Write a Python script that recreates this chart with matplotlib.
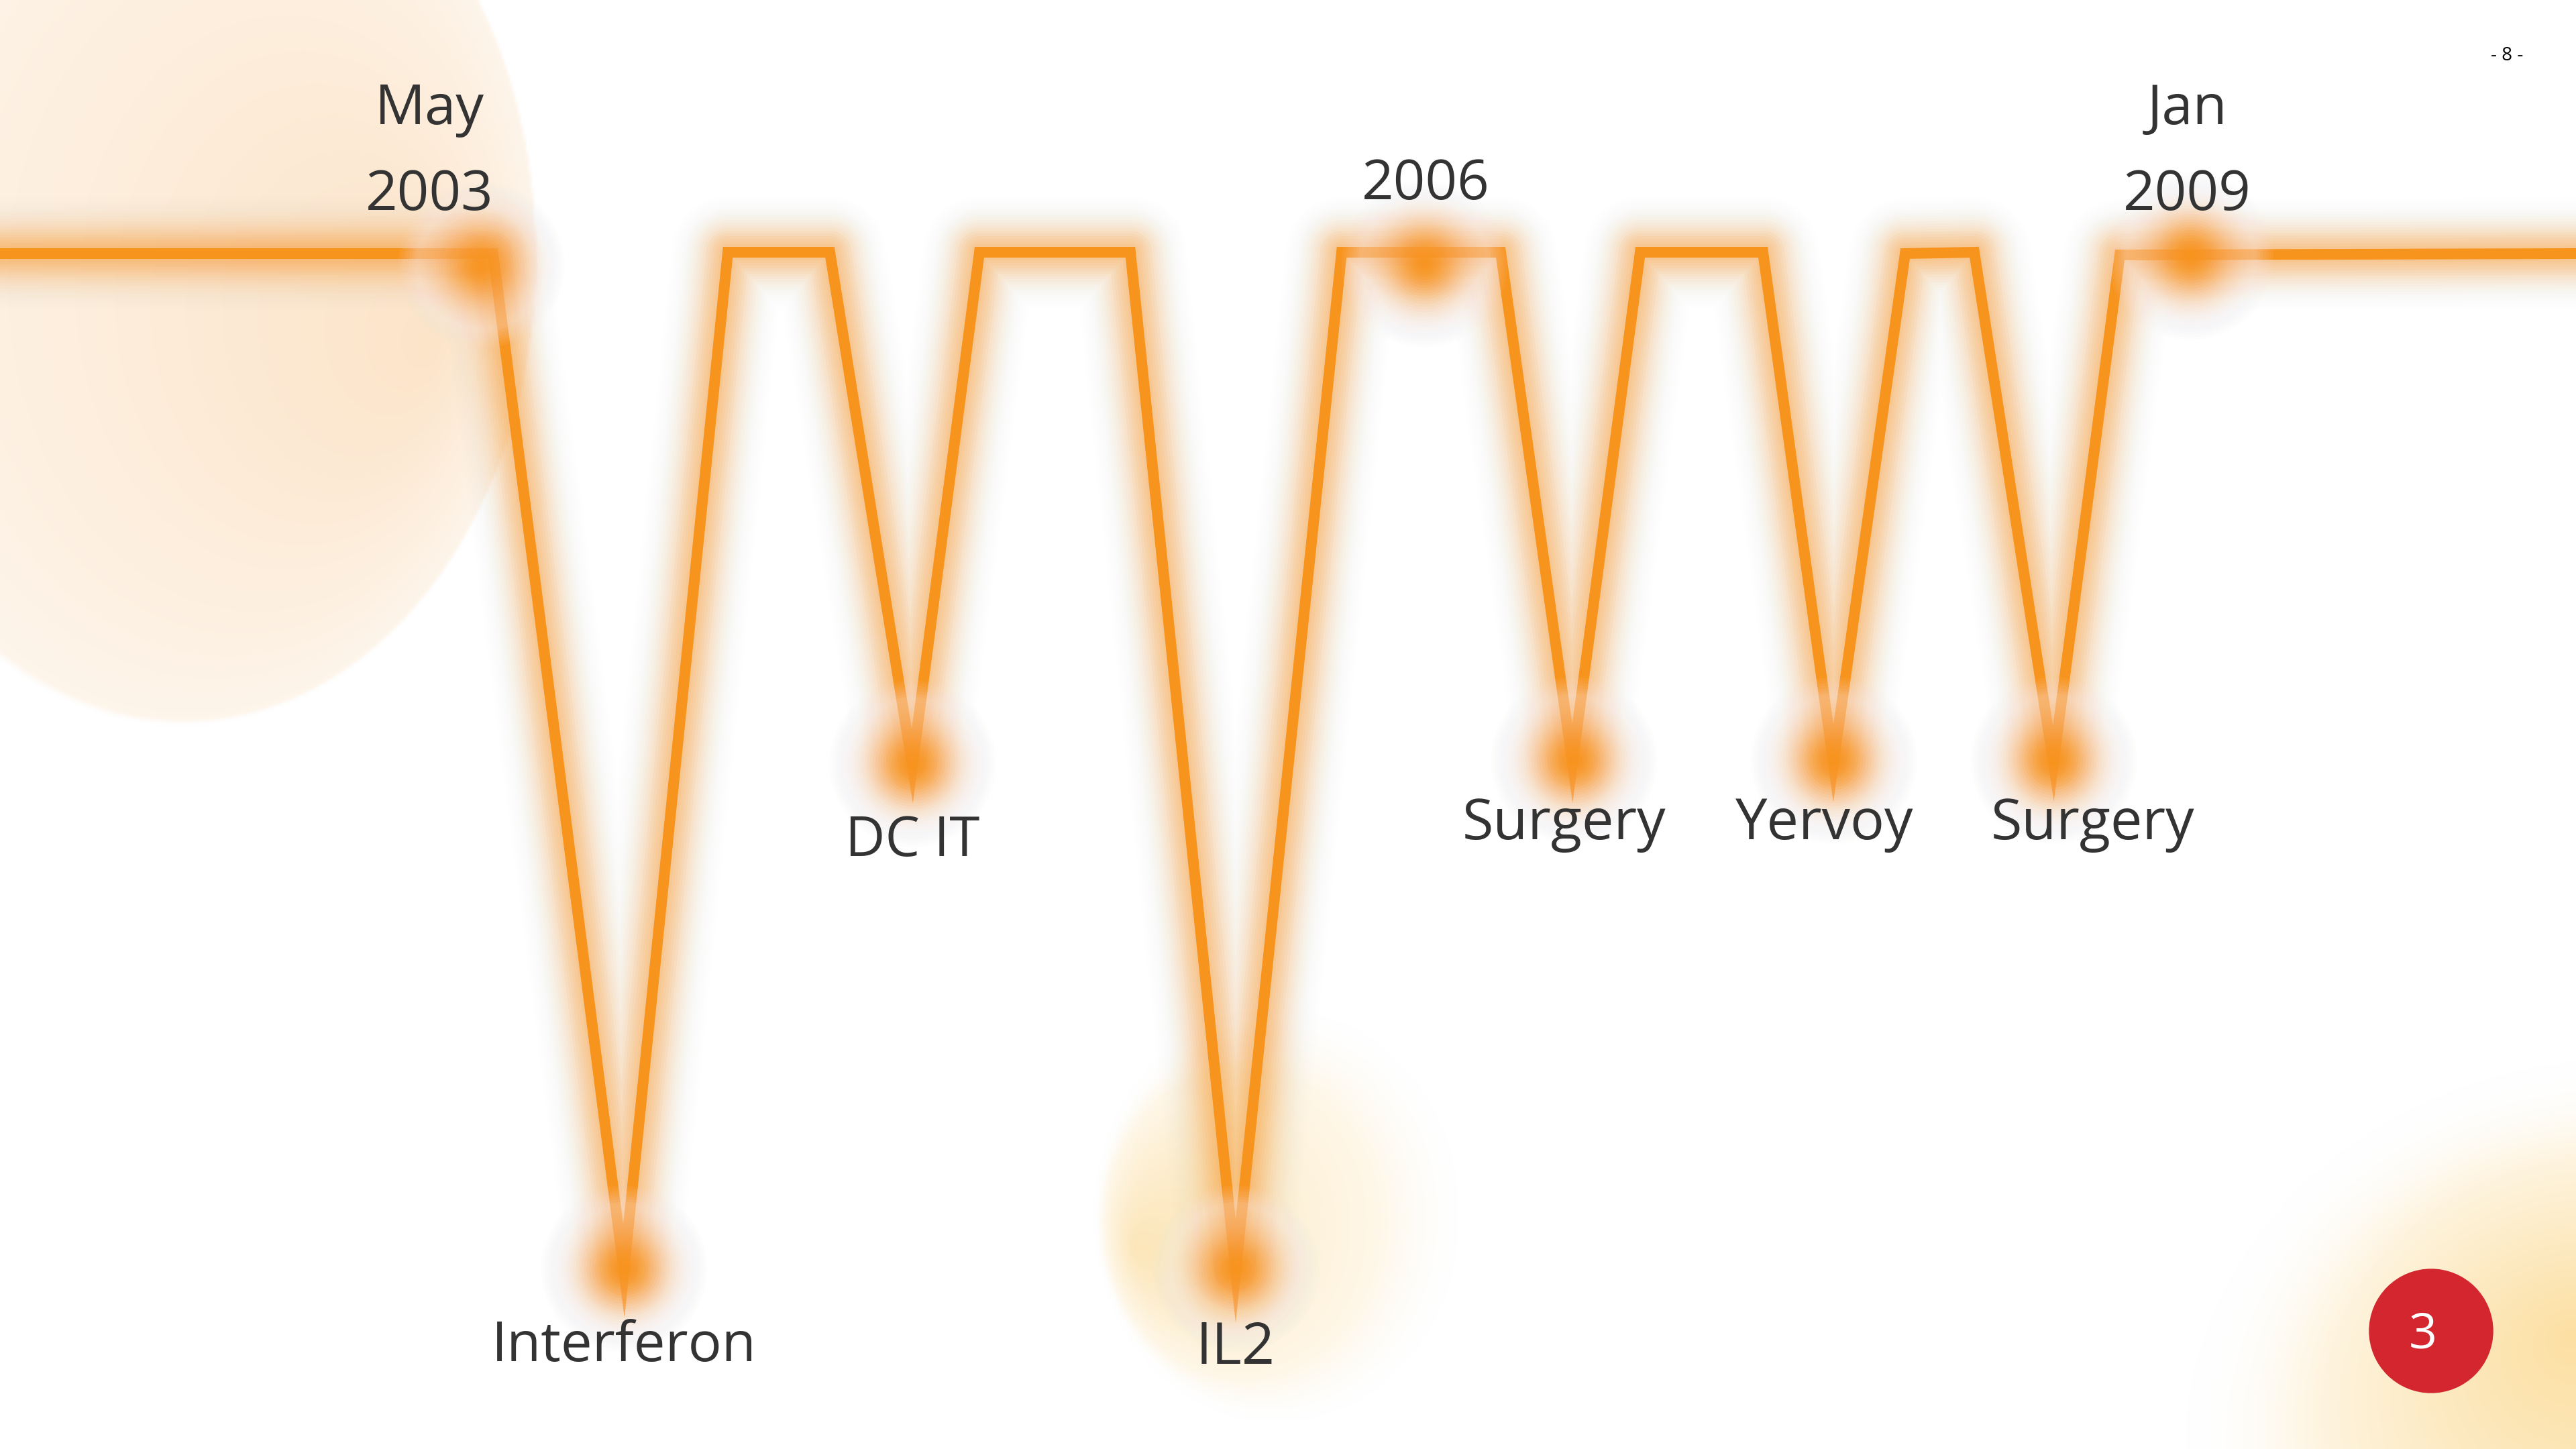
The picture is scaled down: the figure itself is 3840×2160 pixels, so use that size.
import numpy as np
import matplotlib.pyplot as plt
from matplotlib.patches import Circle

# zigzag timeline, slide pixel coordinates (y grows downward)
path_x = [0, 735, 930, 1085, 1237, 1360, 1460, 1685, 1842, 2000, 2237,
          2344, 2445, 2628, 2733, 2840, 2943, 3061, 3160, 3840]
path_y = [378, 378, 1895, 376, 376, 1142, 376, 376, 1895, 376, 376,
          1138, 376, 376, 1138, 378, 376, 1138, 380, 378]

# glowing event points and their labels
event_x = [717, 930, 1360, 1842, 2123, 2346, 2733, 3061, 3265]
event_y = [395, 1891, 1138, 1891, 393, 1133, 1133, 1133, 382]
event_labels = ['May\n2003', 'Interferon', 'DC IT', 'IL2', '2006',
                'Surgery', 'Yervoy', 'Surgery', 'Jan\n2009']

page_number = '- 8 -'
badge_number = '3'

# layout of the labels (centre x, baseline of last line, font size)
label_x = [640, 930, 1360, 1842, 2125, 2332, 2720, 3120, 3260]
label_base = [313, 2029, 1276, 2033, 297, 1251, 1251, 1251, 313]
label_size = [60, 60, 59, 62, 60, 61, 61, 61, 60]
line_step = 128

ORANGE = '#f7941d'
TEXT = '#333333'
PX = 72 / 100  # pixels -> points at dpi 100

plt.rcParams['font.family'] = ['Open Sans', 'DejaVu Sans']

fig = plt.figure(figsize=(38.4, 21.6), dpi=100)
ax = fig.add_axes([0, 0, 1, 1])
ax.set_xlim(0, 3840)
ax.set_ylim(2160, 0)
ax.axis('off')


def add_blob(img, X, Y, cx, cy, rx, ry, fx, fy, rgb, a_in, a_out, edge):
    '''
    Elliptic radial gradient with a focal point, blended onto img
    '''
    dx = X - fx
    dy = Y - fy
    a = np.maximum((dx / rx) ** 2 + (dy / ry) ** 2, 1e-12)
    b = 2 * ((fx - cx) * dx / rx ** 2 + (fy - cy) * dy / ry ** 2)
    c = ((fx - cx) / rx) ** 2 + ((fy - cy) / ry) ** 2 - 1
    s = (-b + np.sqrt(b * b - 4 * a * c)) / (2 * a)
    t = 1 / s
    alpha = a_in + (a_out - a_in) * np.clip(t, 0, 1)
    alpha = alpha * np.clip((1 - t) / edge, 0, 1)
    alpha = alpha[..., None]
    return img * (1 - alpha) + np.array(rgb) / 255 * alpha


def layer_alphas(opac):
    '''
    Alphas for stacked layers (largest radius first) so that the
    accumulated opacity follows the wanted profile
    '''
    trans = 1 - np.asarray(opac, float)
    prev = np.concatenate([[1.0], trans[:-1]])
    return 1 - trans / prev


def gauss(r, peak, sigma):
    return peak * np.exp(-np.asarray(r, float) ** 2 / (2 * sigma ** 2))


# soft background blobs
H, W = 540, 960
Y, X = np.mgrid[0:H, 0:W] * 4.0 + 2
bg = np.ones((H, W, 3))
bg = add_blob(bg, X, Y, 270, 380, 530, 700, 650, 517, (246, 165, 74), 0.30, 0.11, 0.015)
bg = add_blob(bg, X, Y, 1903, 1812, 270, 306, 1690, 1861, (250, 200, 100), 0.45, 0.05, 0.25)
bg = add_blob(bg, X, Y, 3918, 2170, 660, 590, 3830, 1990, (250, 200, 95), 0.58, 0.0, 0.35)
ax.imshow(bg, extent=[0, 3840, 2160, 0], interpolation='bilinear', zorder=0, aspect='auto')

# glow around the timeline (half widths in px, widest first)
glow_r = np.arange(84, 8, -4)
for r, a in zip(glow_r, layer_alphas(gauss(glow_r, 0.5, 28))):
    ax.plot(path_x, path_y, color=ORANGE, lw=2 * r * PX, alpha=a,
            solid_joinstyle='round', solid_capstyle='butt', zorder=2)
ax.plot(path_x, path_y, color=ORANGE, lw=16 * PX,
        solid_joinstyle='miter', solid_capstyle='butt', zorder=3)

# pale halo that washes out the line around each event
halo_r = np.arange(128, 90, -4)
halo_op = 0.42 * np.clip((128 - halo_r) / 30, 0, 1)
for r, a in zip(halo_r, layer_alphas(halo_op)):
    ax.scatter(event_x, event_y, s=(2 * r * PX) ** 2, color='#fafbfe',
               alpha=a, linewidths=0, zorder=4)

# orange glow dot at each event
dot_r = np.arange(124, 2, -4)
for r, a in zip(dot_r, layer_alphas(gauss(dot_r, 0.95, 40))):
    ax.scatter(event_x, event_y, s=(2 * r * PX) ** 2, color=ORANGE,
               alpha=a, linewidths=0, zorder=5)

# labels
for lab, x, yb, fs in zip(event_labels, label_x, label_base, label_size):
    lines = lab.split('\n')
    for k, line in enumerate(lines):
        y = yb - (len(lines) - 1 - k) * line_step
        ax.text(x, y, line, ha='center', va='baseline', fontsize=fs,
                color=TEXT, zorder=6)

# page number and red badge
ax.text(3737, 90, page_number, ha='center', va='baseline', fontsize=20,
        color='black', zorder=6)
ax.add_patch(Circle((3624, 1984), 92, color='#d3262f', zorder=6))
ax.text(3612, 2009, badge_number, ha='center', va='baseline', fontsize=53,
        color='white', zorder=7)

fig.savefig('out.png', dpi=100)
